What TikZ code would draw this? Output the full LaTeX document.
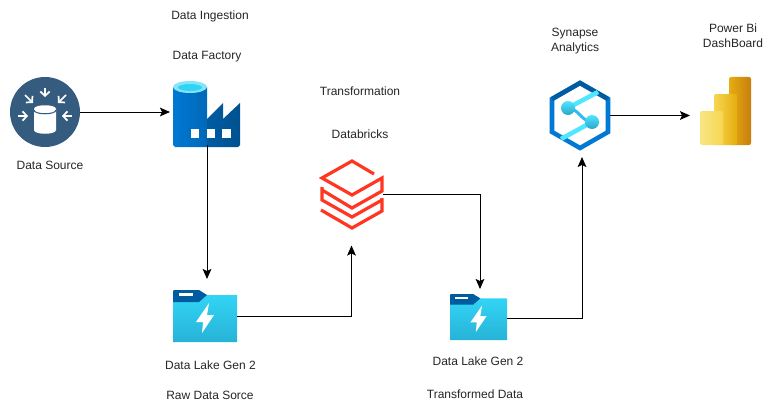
\documentclass[tikz,border=0pt]{standalone}
\usepackage{fontspec}
\setmainfont{Liberation Sans}
\usetikzlibrary{arrows.meta}
\def\pxu{0.75pt}
\definecolor{dsblue}{HTML}{355C7F}
\definecolor{azdark}{HTML}{005BA1}
\definecolor{azmid}{HTML}{0078D4}
\definecolor{azlight}{HTML}{32D4F5}
\definecolor{azlight2}{HTML}{198AB3}
\definecolor{azcyan}{HTML}{50E6FF}
\definecolor{dbred}{HTML}{FF3621}
\definecolor{goldA}{HTML}{E6AD10}
\definecolor{goldB}{HTML}{C87E0E}
\definecolor{goldC}{HTML}{F6D751}
\definecolor{goldD}{HTML}{F9E583}
\tikzset{
  lbl/.style={font=\fontsize{9}{11.25}\selectfont, align=center, text=black!85, inner sep=0pt},
  lblone/.style={lbl, text height=6.5pt, text depth=1.9pt},
  iconbox/.style={inner sep=0pt, outer sep=0pt, minimum width=#1*\pxu},
  iconh/.style={minimum height=#1*\pxu},
  flow/.style={draw=black, line width=0.75pt, -{Stealth[length=7.5pt,width=6.5pt,inset=1.5pt]}},
  wharrow/.style={draw=white, line width=1.3pt, -{Straight Barb[length=3.2pt,width=7pt]}},
  dbline/.style={draw=dbred, line width=2.4pt, line join=miter, line cap=butt},
  pics/lakefolder/.style={code={
    \path[top color=azlight, bottom color=azlight!55!azlight2]
      (0,7) -- (22,5) -- (64,5) -- (64,52) -- (0,52) -- cycle;
    \path[fill=azdark] (0,1) -- (1,0) -- (26,0) -- (34,5) -- (26,12) -- (0,12) -- cycle;
    \path[fill=white] (6,3) rectangle (20,6);
    \path[fill=white] (36,13) -- (23,32) -- (30,32) -- (29,43) -- (41,25) -- (34,25) -- cycle;
  }}
}
\begin{document}
\begin{tikzpicture}[x=0.75pt,y=-0.75pt]
\useasboundingbox (0,0) rectangle (770,410);
\path[fill=white] (0,0) rectangle (770,410);

% --- icon frames (invisible, used by connectors)
\node[iconbox=70,iconh=70]  (ds)    at (45,112) {};
\node[iconbox=74,iconh=66]  (fac)   at (207,112) {};
\node[iconbox=64,iconh=52]  (lakea) at (205,316) {};
\node[iconbox=63,iconh=67]  (db)    at (351.5,194) {};
\node[iconbox=54,iconh=46]  (lakeb) at (480,318) {};
\node[iconbox=56,iconh=69]  (syn)   at (582,115.5) {};
\node[iconbox=51,iconh=68]  (pbi)   at (725.5,115.5) {};
\coordinate (folda) at (173,290);
\coordinate (foldb) at (450,294);

% --- data source
\path[fill=dsblue] (ds) circle[radius=35*\pxu];
\path[fill=white] (34,109) -- (34,130) .. controls (34,135) and (56,135) .. (56,130) -- (56,109) .. controls (56,104) and (34,104) .. (34,109) -- cycle;
\draw[dsblue, line width=0.8pt] (34,110) .. controls (34,115) and (56,115) .. (56,110);
\coordinate (dsa1) at (45,88);  \coordinate (dsa2) at (45,97);
\coordinate (dsb1) at (25,95);  \coordinate (dsb2) at (33,103);
\coordinate (dsc1) at (66,95);  \coordinate (dsc2) at (58,103);
\coordinate (dsd1) at (18,116); \coordinate (dsd2) at (28,116);
\coordinate (dse1) at (72,116); \coordinate (dse2) at (62,116);
\draw[wharrow] (dsa1) -- (dsa2);
\draw[wharrow] (dsb1) -- (dsb2);
\draw[wharrow] (dsc1) -- (dsc2);
\draw[wharrow] (dsd1) -- (dsd2);
\draw[wharrow] (dse1) -- (dse2);

% --- data factory
\path[left color=azdark, right color=azdark!90!black] (207,119) -- (223,103) -- (223,119) -- (240,103) -- (240,145) -- (238,147) -- (207,147) -- cycle;
\path[left color=azmid, right color=azmid!45!azdark] (173,87) -- (207,87) -- (207,147) -- (175,147) -- (173,145) -- cycle;
\path[fill=azlight!60!white] (190,87) circle[x radius=17*\pxu, y radius=6*\pxu];
\path[fill=azlight] (190,87.5) circle[x radius=12*\pxu, y radius=3.5*\pxu];
\path[fill=white] (191,129) rectangle (199,138);
\path[fill=white] (207,129) rectangle (215,138);
\path[fill=white] (222,129) rectangle (231,138);

% --- data lakes
\pic at (folda) {lakefolder};
\pic[x=0.668pt, y=-0.664pt] at (foldb) {lakefolder};

% --- databricks
\draw[dbline] (374,174) -- (352,161) -- (322,178) -- (352,195) -- (382,178) -- (382,191) -- (352,208) -- (322,190);
\draw[dbline] (322,187) -- (322,200) -- (352,217) -- (382,200);
\draw[dbline] (382,198) -- (382,211) -- (352,228) -- (321,210);

% --- synapse
\draw[azmid, line width=3.4pt, line join=miter] (580,83) -- (608,99) -- (608,132) -- (580,148) -- (552,132) -- (552,99) -- cycle;
\draw[azdark, line width=3.4pt] (552,99) -- (580,83) -- (608,99);
\draw[azcyan, line width=3.4pt] (598,92) -- (568,108);
\draw[azcyan, line width=3.4pt] (592,122) -- (561,139);
\draw[azmid!40!azcyan, line width=2.2pt] (568,108) .. controls (578,108) and (582,122) .. (592,122);
\path[top color=azcyan, bottom color=azlight2!70!azcyan] (568,108) circle[radius=7*\pxu];
\path[top color=azcyan, bottom color=azlight2!70!azcyan] (592,122) circle[radius=7*\pxu];

% --- power bi
\path[left color=goldA, right color=goldB, rounded corners=1.5pt] (729,77) rectangle (751,145);
\path[left color=goldC, right color=goldA, rounded corners=1.5pt] (714,94) rectangle (737,145);
\path[left color=goldD, right color=goldC, rounded corners=1.5pt] (700,111) rectangle (723,145);

% --- connectors
\draw[flow] (ds.east) -- (ds.east -| fac.west);
\draw[flow, shorten >=11*\pxu] (fac.south) -- (fac.south |- lakea.north);
\draw[flow, shorten >=18*\pxu] (lakea.east) -| (db.south);
\draw[flow, shorten >=6*\pxu] (db.east) -| (lakeb.north);
\draw[flow, shorten >=7*\pxu] (lakeb.east) -| (syn.south);
\draw[flow, shorten >=10*\pxu] (syn.east) -- (syn.east -| pbi.west);

% --- labels
\node[lblone] (t1) at (210,16) {Data Ingestion};
\node[lblone] (t2) at (207,56) {Data Factory};
\node[lblone] (t3) at (360,92) {Transformation};
\node[lblone] (t4) at (360,135) {Databricks};
\node[lblone] (t5) at (50,166) {Data Source};
\node[lblone] (t6) at (210.5,366) {Data Lake Gen 2};
\node[lblone] (t7) at (210,396) {Raw Data Sorce};
\node[lblone] (t8) at (478,362) {Data Lake Gen 2};
\node[lblone] (t9) at (475,395) {Transformed Data};
\node[lbl] (t10) at (575,41) {Synapse\\Analytics};
\node[lbl] (t11) at (733,36) {Power Bi\\DashBoard};
\end{tikzpicture}
\end{document}
